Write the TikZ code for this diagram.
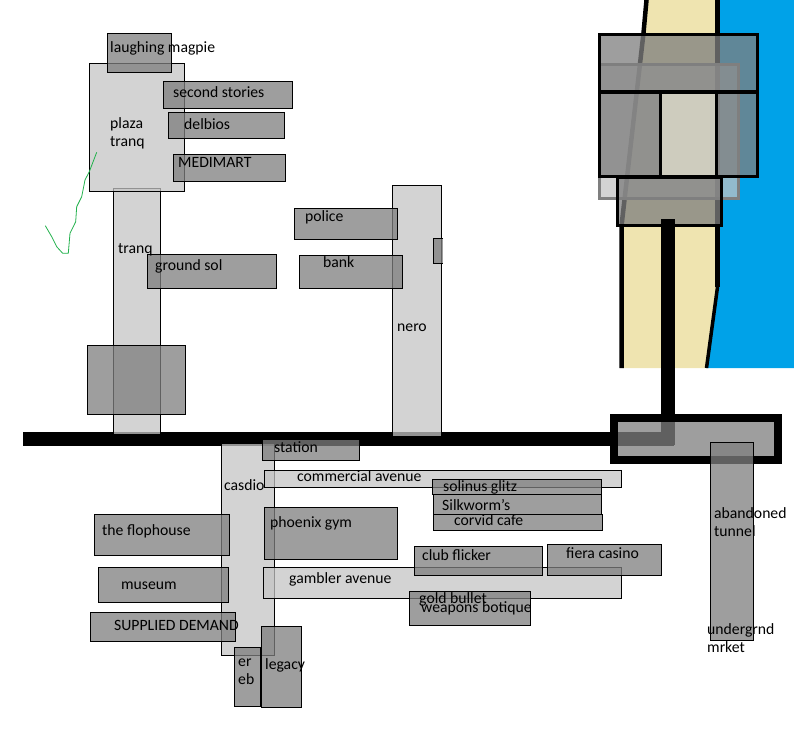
\documentclass[tikz,border=0pt]{standalone}
\usepackage{fontspec}
\setmainfont{Carlito}
\definecolor{sandc}{HTML}{EFE4B0}
\definecolor{seac}{HTML}{00A2E8}
\definecolor{grayf}{HTML}{7F7F7F}
\definecolor{lightf}{HTML}{C4C4C4}
\definecolor{greenc}{HTML}{22B14C}
\tikzset{
  grayb/.style={draw=black,line width=1pt,fill=grayf,fill opacity=.76},
  lightb/.style={draw=black,line width=1pt,fill=lightf,fill opacity=.745},
  heavyb/.style={draw=black,line width=3pt,fill=grayf,fill opacity=.76},
  lab/.style={anchor=west,inner sep=0pt,font=\fontsize{15.7}{18}\selectfont,align=left,text=black},
}
\begin{document}
\begin{tikzpicture}[x=1pt,y=-1pt]
\useasboundingbox (0,0) rectangle (794,734);
% sea and sand
\fill[seac] (717,0) -- (794,0) -- (794,368) -- (706,368) -- (717,287) -- cycle;
\fill[sandc] (646.5,0) -- (717,0) -- (717,287) -- (706,368) -- (621.5,368) -- (621.5,226) -- (643.5,33) -- cycle;
\draw[black,line width=4.5pt] (646.5,0) -- (643.5,33) -- (621.5,226) -- (621.5,368);
\draw[black,line width=4.5pt] (717.3,0) -- (717.3,287);
\draw[black,line width=3.5pt] (717.5,287) -- (706.5,368);
% road
\fill[black] (23,432) rectangle (674,446);
% light boxes
\path[lightb] (113.5,188.5) rectangle (160.5,434);
\path[lightb] (89.5,63) rectangle (184.5,191.5);
\path[lightb] (392.5,185.5) rectangle (441.5,436);
\path[lightb] (221.5,443) rectangle (274.5,655);
\path[lightb] (264.5,470.5) rectangle (621.5,487.5);
\path[lightb] (263.5,567.5) rectangle (621.5,598.5);
\path[lightb,draw=grayf,line width=3pt] (599.5,64.5) rectangle (738.2,198);
% grey boxes
\path[grayb] (107.5,33.5) rectangle (171.5,72);
\path[grayb] (163.5,81) rectangle (292.5,108);
\path[grayb] (168.5,112.5) rectangle (284.5,138.5);
\path[grayb] (173.5,154.5) rectangle (285.5,181.5);
\path[grayb] (147.5,254.5) rectangle (276.5,288.5);
\path[grayb] (294.5,208.5) rectangle (397.5,239.5);
\path[grayb] (299.5,255) rectangle (402.5,288.5);
\fill[grayf,fill opacity=.76] (433.5,238.5) rectangle (443,263);
\draw[black,line width=1pt] (443,238.5) -- (433.5,238.5) -- (433.5,263) -- (443,263);
\path[grayb] (87.5,345.5) rectangle (185.5,414.5);
\path[grayb] (262.5,439.5) rectangle (359.5,460.5);
\path[grayb] (432.5,479.5) rectangle (601.5,494.5);
\path[grayb] (433.5,494.5) rectangle (601.5,514.5);
\path[grayb] (433.5,514.5) rectangle (602.5,530.5);
\path[grayb] (264.5,507.5) rectangle (397.5,559.5);
\path[grayb] (414.5,546.5) rectangle (542.5,575.5);
\path[grayb] (547.5,544.5) rectangle (661.5,575.5);
\path[grayb] (409.5,591.5) rectangle (530.5,625.5);
\path[grayb] (94.5,514.5) rectangle (229.5,555.5);
\path[grayb] (98.5,567.5) rectangle (228.5,602.5);
\path[grayb] (90.5,612.5) rectangle (235.5,641.5);
\path[grayb] (234.5,647.5) rectangle (260.5,706.5);
\path[grayb] (261.5,626.5) rectangle (301.5,707.5);
% pier block
\path[heavyb] (599.5,34.5) rectangle (757.5,91.5);
\path[heavyb] (599,92.5) rectangle (660,176.5);
\path[heavyb] (716,92.5) rectangle (757.5,176.5);
\draw[black,line width=3pt] (660,92.5) -- (716,92.5) (660,176.5) -- (716,176.5);
\path[heavyb] (617.5,177) rectangle (721.5,225.5);
% causeway runs over the pier block, under the tunnel block
\fill[black] (661,219) rectangle (675,445);
\path[grayb,line width=8pt] (614,418) rectangle (778,460);
\path[grayb] (710.5,442.5) rectangle (753.5,640);
% scribble
\draw[greenc,line width=.8pt] (96.7,152.3) -- (89.3,171.7) -- (85,180) -- (81.7,196.7) -- (76.7,206.7) -- (75.7,221.7) -- (70,233.3) -- (68.3,253.3) -- (62.7,253.3) -- (56.7,246.7) -- (51.7,236.7) -- (45.3,225.7);
% labels
\node[lab] (magpie) at (110,48) {laughing magpie};
\node[lab] (plaza) at (110,133) {plaza\\tranq};
\node[lab] (stories) at (173,92) {second stories};
\node[lab] (delbios) at (184,124) {delbios};
\node[lab] (medimart) at (178,162) {MEDIMART};
\node[lab] (tranq) at (118,250) {tranq};
\node[lab] (sol) at (155,266) {ground sol};
\node[lab] (police) at (305,217) {police};
\node[lab] (bank) at (323,262) {bank};
\node[lab] (nero) at (397,328) {nero};
\node[lab] (station) at (274,447) {station};
\node[lab] (commercial) at (297,476) {commercial avenue};
\node[lab] (casdio) at (224,485) {casdio};
\node[lab] (solinus) at (443,487) {solinus glitz};
\node[lab] (silkworm) at (442,505) {Silkworm's};
\node[lab] (corvid) at (454,520) {corvid cafe};
\node[lab] (phoenix) at (270,523) {phoenix gym};
\node[lab] (flop) at (102,531) {the flophouse};
\node[lab] (museum) at (121,586) {museum};
\node[lab] (gambler) at (289,579) {gambler avenue};
\node[lab] (club) at (422,555) {club flicker};
\node[lab] (fiera) at (566,553) {fiera casino};
\node[lab] (gold) at (419,599) {gold bullet};
\node[lab] (weapons) at (421,608) {weapons botique};
\node[lab] (supplied) at (114,625) {SUPPLIED DEMAND};
\node[lab] (ereb) at (238,672) {er\\eb};
\node[lab] (legacy) at (265,665) {legacy};
\node[lab] (tunnel) at (714,522) {abandoned\\tunnel};
\node[lab] (market) at (707,638) {undergrnd\\mrket};
\end{tikzpicture}
\end{document}
